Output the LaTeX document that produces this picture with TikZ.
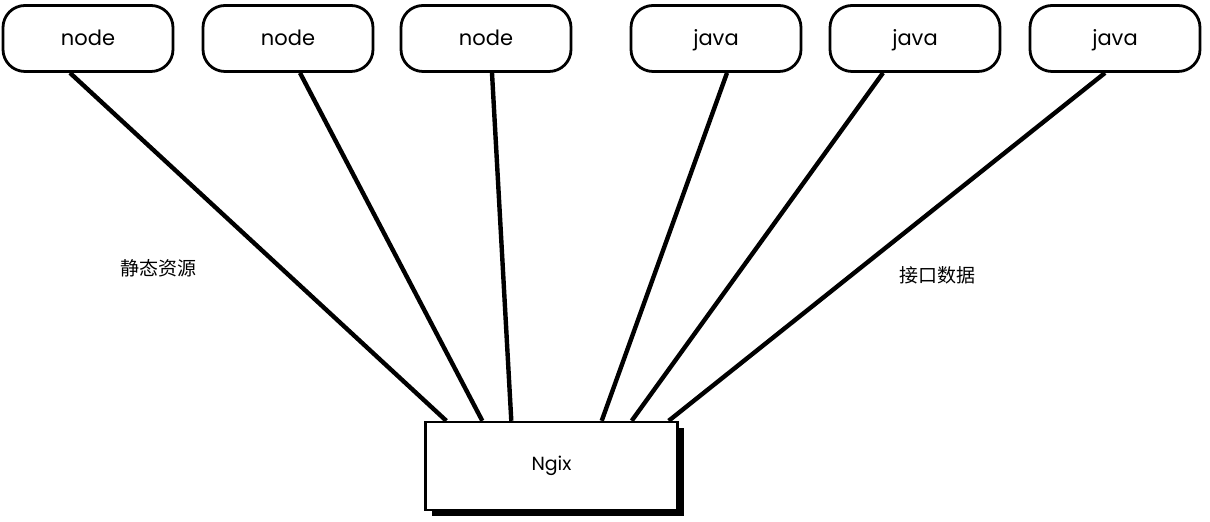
\documentclass[tikz,border=0pt]{standalone}
\usepackage{fontspec}
\setmainfont{Poppins}
\newfontfamily\cjk{Noto Sans CJK SC}
\usetikzlibrary{shadows}
\tikzset{
  svc/.style={draw,line width=1.4pt,rounded corners=11pt,minimum width=85pt,minimum height=33pt,
    text height=1.6ex,text depth=0.3ex,font=\fontsize{10.5}{12}\selectfont},
  gate/.style={draw,line width=1.2pt,fill=white,minimum width=126pt,minimum height=44pt,font=\fontsize{9.5}{11}\selectfont,
    drop shadow={shadow xshift=3pt,shadow yshift=-3pt,fill=black,opacity=1}},
  link/.style={line width=2.2pt},
  note/.style={font=\cjk\fontsize{9.5}{11}\selectfont}
}
\begin{document}
\begin{tikzpicture}[x=0.5pt,y=-0.5pt]
\useasboundingbox (0,0) rectangle (1210,522);
\node [svc,name=n1] at (88,38.5){node};
\node [svc,name=n2] at (288,38.5){node};
\node [svc,name=n3] at (486,38.5){node};
\node [svc,name=j1] at (716,38.5){java};
\node [svc,name=j2] at (915,38.5){java};
\node [svc,name=j3] at (1115,38.5){java};
\node [gate,name=ngix] at (551.5,466){Ngix};
\node [note,name=st] at (158,268){静态资源};
\node [note,name=api] at (937,275){接口数据};
\draw[link] ([xshift=-9pt]n1.south)--([xshift=11pt]ngix.north west);
\draw[link] ([xshift=6pt]n2.south)--([xshift=29pt]ngix.north west);
\draw[link] ([xshift=3pt]n3.south)--([xshift=43.5pt]ngix.north west);
\draw[link] ([xshift=5.5pt]j1.south)--([xshift=-38.5pt]ngix.north east);
\draw[link] ([xshift=-16pt]j2.south)--([xshift=-23.5pt]ngix.north east);
\draw[link] ([xshift=-5pt]j3.south)--([xshift=-5pt]ngix.north east);
\end{tikzpicture}
\end{document}
